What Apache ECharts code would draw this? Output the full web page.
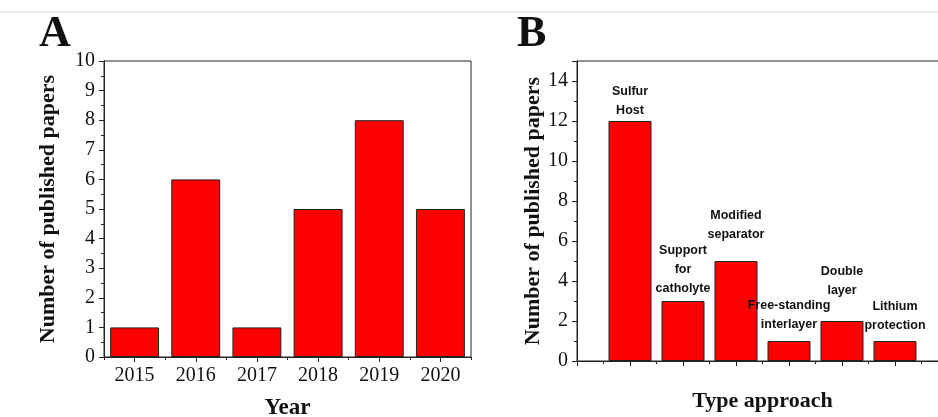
<!DOCTYPE html>
<html>
<head>
<meta charset="utf-8">
<script src="https://cdn.jsdelivr.net/npm/echarts@6/dist/echarts.min.js"></script>
<style>
html,body{margin:0;padding:0;background:#fff;}
#main{width:938px;height:417px;}
</style>
</head>
<body>
<div id="main"></div>
<script>
// Panel A data
const yearsA = ['2015', '2016', '2017', '2018', '2019', '2020'];
const papersA = [1, 6, 1, 5, 8, 5];
// Panel B data
const typesB = ['Sulfur\nHost', 'Support\nfor\ncatholyte', 'Modified\nseparator', 'Free-standing\ninterlayer', 'Double\nlayer', 'Lithium\nprotection'];
const papersB = [12, 3, 5, 1, 2, 1];
// label distances above bars (style only)
const labelGapB = [1, 3, 17, 7, 21, 6];

const serif = 'Liberation Serif';
const sans = 'Liberation Sans';
const ink = '#111';
const lineCol = '#222';

const chart = echarts.init(document.getElementById('main'), null, {renderer: 'canvas'});

const yAxisCommon = {
  type: 'value',
  axisLine: {show: true, lineStyle: {color: lineCol, width: 1}},
  axisTick: {show: true, inside: false, length: 5, lineStyle: {color: lineCol}},
  minorTick: {show: true, splitNumber: 2, length: 3, lineStyle: {color: lineCol}},
  splitLine: {show: false},
  axisLabel: {color: ink, fontFamily: serif, fontSize: 20, margin: 9},
  nameLocation: 'middle',
  nameTextStyle: {color: ink, fontFamily: serif, fontSize: 22, fontWeight: 'bold'}
};

const option = {
  backgroundColor: '#fff',
  animation: false,
  graphic: [
    {type: 'line', shape: {x1: 0, y1: 12, x2: 938, y2: 12}, style: {stroke: '#dcdcdc', lineWidth: 1}},
    {type: 'text', left: 39, top: 13, style: {text: 'A', font: 'bold 44px "Liberation Serif"', fill: ink}},
    {type: 'text', left: 517, top: 13, style: {text: 'B', font: 'bold 44px "Liberation Serif"', fill: ink}}
  ],
  grid: [
    {left: 104, top: 61, right: 467, bottom: 60, containLabel: false, outerBoundsMode: 'none',
      show: true, borderColor: lineCol, borderWidth: 1, backgroundColor: 'transparent'},
    {left: 577, top: 61, width: 371, bottom: 56, containLabel: false, outerBoundsMode: 'none',
      show: true, borderColor: lineCol, borderWidth: 1, backgroundColor: 'transparent'}
  ],
  xAxis: [
    {
      gridIndex: 0, type: 'category', data: yearsA,
      axisLine: {show: true, lineStyle: {color: lineCol}},
      axisTick: {show: true, alignWithLabel: true, length: 5, lineStyle: {color: lineCol}},
      axisLabel: {color: ink, fontFamily: serif, fontSize: 20, margin: 9},
      name: 'Year', nameLocation: 'middle', nameGap: 40,
      nameTextStyle: {color: ink, fontFamily: serif, fontSize: 23, fontWeight: 'bold', verticalAlign: 'top'}
    },
    {
      gridIndex: 0, type: 'category', data: yearsA, position: 'bottom',
      axisLine: {show: false},
      axisTick: {show: true, alignWithLabel: false, length: 3, lineStyle: {color: lineCol}},
      axisLabel: {show: false}
    },
    {
      gridIndex: 1, type: 'value', min: 0, max: 7, interval: 1,
      axisLine: {show: true, lineStyle: {color: lineCol}},
      axisTick: {show: true, length: 5, lineStyle: {color: lineCol}},
      minorTick: {show: true, splitNumber: 2, length: 3, lineStyle: {color: lineCol}},
      splitLine: {show: false},
      axisLabel: {show: false},
      name: 'Type approach', nameLocation: 'middle', nameGap: 29,
      nameTextStyle: {color: ink, fontFamily: serif, fontSize: 22, fontWeight: 'bold', verticalAlign: 'top'}
    }
  ],
  yAxis: [
    Object.assign({}, yAxisCommon, {gridIndex: 0, min: 0, max: 10, interval: 1, name: 'Number of published papers', nameGap: 45}),
    Object.assign({}, yAxisCommon, {gridIndex: 1, min: 0, max: 15, interval: 2, name: 'Number of published papers', nameGap: 33,
      axisLabel: Object.assign({}, yAxisCommon.axisLabel, {showMaxLabel: false, formatter: v => (v % 2 === 0 ? String(v) : '')})})
  ],
  series: [
    {
      type: 'bar', xAxisIndex: 0, yAxisIndex: 0, data: papersA,
      barCategoryGap: '20%',
      itemStyle: {color: '#ff0000', borderColor: lineCol, borderWidth: 1}
    },
    {
      type: 'bar', xAxisIndex: 2, yAxisIndex: 1,
      barWidth: 43,
      data: papersB.map((v, i) => ({
        value: [i + 1, v], name: typesB[i],
        label: {distance: labelGapB[i]}
      })),
      itemStyle: {color: '#ff0000', borderColor: lineCol, borderWidth: 1},
      label: {
        show: true, position: 'top',
        formatter: p => p.name,
        color: ink, fontFamily: sans, fontWeight: 'bold', fontSize: 12.5, lineHeight: 19, align: 'center'
      }
    }
  ]
};

chart.setOption(option);
</script>
</body>
</html>
